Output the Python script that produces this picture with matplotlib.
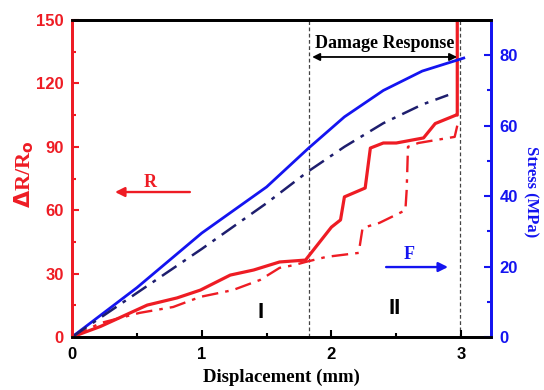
import matplotlib
matplotlib.use("Agg")
import matplotlib.pyplot as plt
import numpy as np

# resistance change (left axis)
r_solid_x = [0, 0.22, 0.58, 0.81, 0.99, 1.22, 1.40, 1.60, 1.80, 2.00, 2.07, 2.10, 2.26, 2.30,
             2.40, 2.50, 2.71, 2.80, 2.96, 2.97, 2.97]
r_solid_y = [0, 5, 15.1, 18.5, 22.2, 29.3, 31.7, 35.5, 36.4, 52, 55.4, 66.3, 70.5, 89.4,
             91.8, 91.8, 94.2, 101, 105, 105, 152]
r_dash_x = [0, 0.22, 0.52, 0.78, 0.99, 1.24, 1.45, 1.60, 1.71, 1.80, 1.96, 2.21, 2.24, 2.37,
            2.57, 2.58, 2.59, 2.67, 2.95, 2.97]
r_dash_y = [0, 6.6, 11.4, 14.2, 19, 22.2, 27, 32.7, 34, 35.5, 37.9, 39.8, 51.6, 54,
            60, 69.6, 90, 91.8, 94.7, 100]

# stress (right axis)
s_solid_x = [0, 0.5, 1.0, 1.5, 1.82, 2.1, 2.4, 2.7, 3.02]
s_solid_y = [0, 14, 29.5, 42.6, 53.5, 62.5, 70, 75.5, 79.2]
s_dash_x = [0, 0.5, 1.0, 1.5, 1.82, 2.1, 2.4, 2.7, 2.9]
s_dash_y = [0, 12.5, 25, 38, 47, 54, 60.7, 66, 68.7]

red = '#ee1c24'
blue = '#1414f0'
navy = '#1e1e6e'
serif = 'Liberation Serif'
sans = 'Liberation Sans'

fig = plt.figure(figsize=(5.44, 3.9), dpi=100)
ax = fig.add_axes([72/544, 1-337/390, (491-72)/544, (337-20)/390])
ax2 = ax.twinx()

ax.plot(r_solid_x, r_solid_y, color=red, lw=2.3, zorder=3)
ax.plot(r_dash_x, r_dash_y, color=red, lw=1.7, dashes=[7, 3, 1.5, 3], zorder=3)
ax2.plot(s_solid_x, s_solid_y, color=blue, lw=2.0)
ax2.plot(s_dash_x, s_dash_y, color=navy, lw=1.8, dashes=[7, 3, 1.5, 3])

ax.set_xlim(0, 3.23)
ax.set_ylim(0, 150)
ax2.set_ylim(0, 90)

for xv in [1.83, 2.99]:
    ax.axvline(xv, color='#444444', lw=0.9, ls=(0, (3, 2)), zorder=1)

ax.annotate('', xy=(1.83, 132.5), xytext=(2.99, 132.5),
            arrowprops=dict(arrowstyle='<|-|>', color='black', lw=1.3, mutation_scale=11))
ax.text(2.41, 139, 'Damage Response', ha='center', va='center', family=serif,
        fontweight='bold', fontsize=13)

ax.annotate('', xy=(0.31, 68.6), xytext=(0.93, 68.6),
            arrowprops=dict(arrowstyle='-|>', color=red, lw=1.7, mutation_scale=14))
ax.text(0.6, 73, 'R', color=red, family=serif, fontweight='bold', fontsize=13,
        ha='center', va='center')
ax.annotate('', xy=(2.92, 33.1), xytext=(2.40, 33.1),
            arrowprops=dict(arrowstyle='-|>', color=blue, lw=1.7, mutation_scale=14))
ax.text(2.6, 39, 'F', color=blue, family=serif, fontweight='bold', fontsize=13,
        ha='center', va='center')

ax.text(1.45, 11.5, 'I', family=sans, fontweight='heavy', fontsize=16, ha='center', va='center')
ax.text(2.49, 13.5, 'II', family=sans, fontweight='heavy', fontsize=16, ha='center', va='center')

ax.set_xticks([0, 1, 2, 3])
ax.set_xticks(np.arange(0.5, 3.2, 1.0), minor=True)
ax.set_yticks(np.arange(0, 151, 30))
ax.set_yticks(np.arange(15, 150, 30), minor=True)
ax2.set_yticks(np.arange(0, 81, 20))
ax2.set_yticks(np.arange(10, 90, 20), minor=True)

ax.tick_params(axis='x', which='both', direction='in', width=1.5, colors='black', labelsize=12, pad=7)
ax.tick_params(axis='x', which='major', length=5)
ax.tick_params(axis='x', which='minor', length=3)
ax.tick_params(axis='y', which='both', direction='in', width=1.5, colors=red, labelsize=12, pad=6)
ax.tick_params(axis='y', which='major', length=5)
ax.tick_params(axis='y', which='minor', length=3)
ax2.tick_params(axis='y', which='both', direction='in', width=1.5, colors=blue, labelsize=12, pad=6)
ax2.tick_params(axis='y', which='major', length=5)
ax2.tick_params(axis='y', which='minor', length=3)

for lab in ax.get_xticklabels() + ax.get_yticklabels() + ax2.get_yticklabels():
    lab.set_fontweight('bold')
    lab.set_family(sans)

for a in (ax, ax2):
    for side in ['top', 'bottom', 'left', 'right']:
        a.spines[side].set_linewidth(2)
    a.spines['left'].set_color(red)
    a.spines['right'].set_color(blue)

ax.set_xlabel('Displacement (mm)', family=serif, fontweight='bold', fontsize=13.5)
ax.xaxis.set_label_coords(0.5, -0.1)
ax.set_ylabel(r'$\mathbf{\Delta}$R/R$_\mathbf{o}$', family=serif, fontweight='bold',
              fontsize=16, color=red)
ax.yaxis.set_label_coords(-0.085, 0.515)
ax2.set_ylabel('Stress (MPa)', family=serif, fontweight='bold', fontsize=12, color=blue,
               rotation=-90, va='bottom')
ax2.yaxis.set_label_coords(1.075, 0.459)

fig.savefig('out.png', dpi=100)
